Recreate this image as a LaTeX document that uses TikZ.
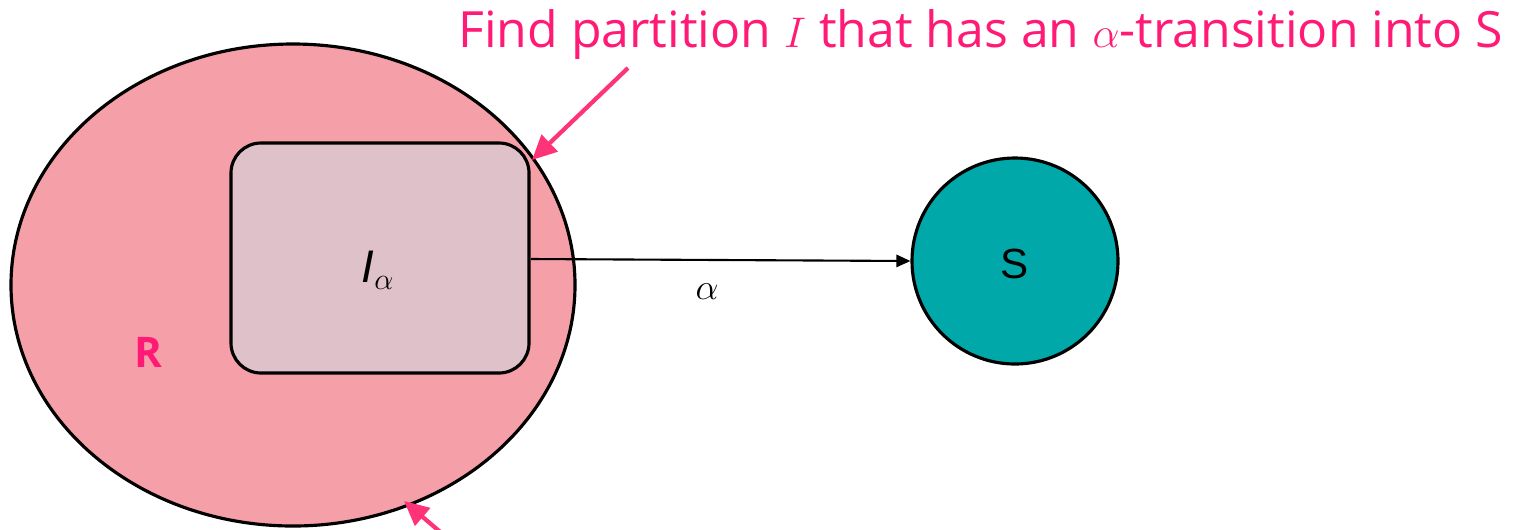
\documentclass[tikz,border=0pt]{standalone}
\usepackage{fontspec}
\setmainfont{Open Sans}
\setsansfont{Liberation Sans}
\usetikzlibrary{arrows.meta,shapes.geometric}
\definecolor{rfill}{HTML}{F5A0A8}
\definecolor{ifill}{HTML}{DFC1C9}
\definecolor{sfill}{HTML}{00A8AA}
\definecolor{pinktext}{HTML}{FF1A75}
\definecolor{pinkarrow}{HTML}{FF3377}
\begin{document}
\begin{tikzpicture}[x=0.02cm,y=-0.02cm,
  outline/.style={draw=black,line width=1.8pt},
  callout/.style={draw=pinkarrow,line width=2.4pt,-{Triangle[length=14pt,width=13pt]}},
  trans/.style={draw=black,line width=1.2pt,-{Triangle[length=8pt,width=7pt]}}]
\useasboundingbox (0,0) rectangle (1514,529);
\node[outline,fill=rfill,ellipse,minimum width=564*0.02cm,minimum height=482*0.02cm,inner sep=0pt] (R) at (293,285) {};
\node[outline,fill=ifill,rounded corners=30*0.02cm,minimum width=298*0.02cm,minimum height=230*0.02cm,inner sep=0pt] (I) at (380,258) {};
\node[font=\sffamily\fontsize{26}{30}\selectfont] (Ilab) at (378,270) {\textit{I}$_{\alpha}$};
\node[font=\bfseries\fontsize{24}{28}\selectfont,text=pinktext] (Rlab) at (148,352) {R};
\node[outline,fill=sfill,circle,minimum size=206*0.02cm,inner sep=0pt] (S) at (1015,261) {};
\node[font=\sffamily\fontsize{24}{28}\selectfont] (Slab) at (1015,264) {S};
\coordinate (Iout) at (531,259);
\draw[trans] (Iout) -- (S.west);
\node[font=\fontsize{22}{26}\selectfont] (alab) at (707,292) {$\alpha$};
\node[text=pinktext,anchor=west,inner sep=0pt] (title) at (458,35) {\resizebox{20.9cm}{!}{\fontsize{29}{34}\selectfont Find partition $I$ that has an $\alpha$-transition into S}};
\coordinate (c1s) at (628,68);
\coordinate (c1e) at (532,160);
\draw[callout] (c1s) -- (c1e);
\coordinate (c2s) at (452,542);
\coordinate (c2e) at (404,501);
\draw[callout] (c2s) -- (c2e);
\end{tikzpicture}
\end{document}
